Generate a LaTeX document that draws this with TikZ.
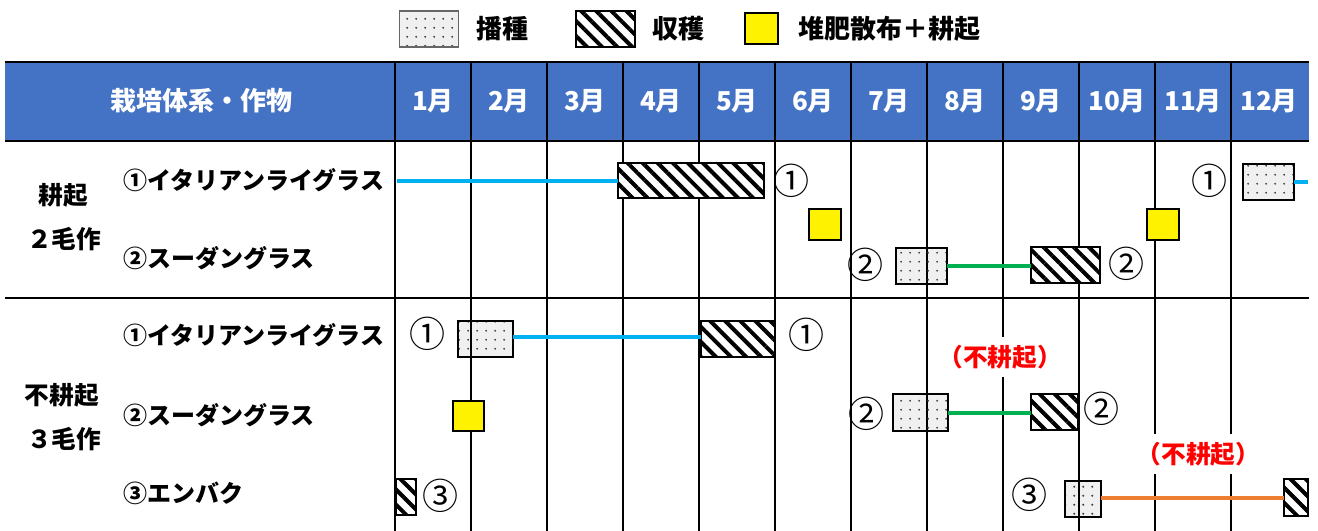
\documentclass[tikz,border=0pt]{standalone}
\usepackage{fontspec}
\setmainfont{Noto Sans CJK JP}
\usetikzlibrary{patterns.meta,fit}
\definecolor{hdr}{HTML}{4472C4}
\definecolor{lblue}{HTML}{00B0F0}
\definecolor{lgreen}{HTML}{00B050}
\definecolor{lorange}{HTML}{ED7D31}
\newcommand\myfs[1]{\fontsize{#1}{#1}\selectfont}
\begin{document}
\begin{tikzpicture}[x=0.75pt,y=-0.75pt,
  gridline/.style={line width=0.8pt, black},
  dotbox/.style={draw=black, line width=1.6pt, inner sep=0pt, outer sep=0pt,
    preaction={fill=black, fill opacity=0.06},
    pattern={Dots[distance=6.5pt,radius=0.8pt]}, pattern color=black!75},
  hatbox/.style={draw=black, line width=1.6pt, inner sep=0pt, outer sep=0pt,
    preaction={fill=white},
    pattern={Lines[angle=-45,distance=8pt,line width=3pt]}, pattern color=black},
  yelbox/.style={draw=black, line width=1.4pt, fill=yellow, inner sep=0pt, outer sep=0pt},
  circ/.style={font=\myfs{27pt}, inner sep=0pt},
  rowlbl/.style={font=\myfs{18pt}\bfseries, anchor=west, inner sep=0pt},
  grplbl/.style={font=\myfs{18.5pt}\bfseries, inner sep=0pt},
  hdrtxt/.style={font=\myfs{19.5pt}\bfseries, text=white, inner sep=0pt},
  legtxt/.style={font=\myfs{19.5pt}\bfseries, anchor=west, inner sep=0pt},
  redlbl/.style={font=\myfs{18.5pt}\bfseries, text=red, fill=white, inner xsep=1pt, minimum height=30pt},
  cline/.style={line width=3pt},
]
\useasboundingbox (0,0) rectangle (1318,531);
% header band
\fill[hdr] (5,62) rectangle (1309,141);
\draw[line width=1.1pt] (5,62) -- (1309,62);
\draw[line width=1.1pt] (5,141) -- (1309,141);
\draw[line width=1.1pt] (5,298) -- (1309,298);
% vertical grid lines
\draw[line width=1.1pt] (395,62) -- (395,531);
\foreach \i in {1,...,11} { \draw[gridline] (395+76*\i,62) -- (395+76*\i,531); }
% header texts
\node[hdrtxt] (hcrop) at (201,101) {栽培体系・作物};
\foreach \m [count=\i from 0] in {1,...,12} { \node[hdrtxt] (m\m) at (395+76*\i+38,101) {\m{}月}; }
% legend
\node[dotbox, line width=1.2pt, draw=black!60, fit={(399.3,11)(458.3,47.3)}] (legD) {};
\node[legtxt] (legDt) at (476,29) {播種};
\node[hatbox, line width=1.4pt, fit={(576,11)(635,47.3)}] (legH) {};
\node[legtxt] (legHt) at (652,29) {収穫};
\node[yelbox, fit={(745,13.3)(777.7,44.3)}] (legY) {};
\node[legtxt] (legYt) at (798,29) {堆肥散布＋耕起};
% group labels
\node[grplbl] (g1a) at (63,195) {耕起};
\node[grplbl] (g1b) at (64,239) {２毛作};
\node[grplbl] (g2a) at (62,395) {不耕起};
\node[grplbl] (g2b) at (64,439) {３毛作};
% row labels
\node[rowlbl] (r1) at (123,180) {①イタリアンライグラス};
\node[rowlbl] (r2) at (123,258) {②スーダングラス};
\node[rowlbl] (r3) at (123,335) {①イタリアンライグラス};
\node[rowlbl] (r4) at (123,415) {②スーダングラス};
\node[rowlbl] (r5) at (123,493) {③エンバク};
% group 1 boxes
\coordinate (b1s) at (397,181);
\coordinate (b2e) at (1308,181.7);
\node[hatbox, fit={(618,162.7)(764,198.3)}] (hA) {};
\node[yelbox, fit={(809,209)(840.7,240)}] (yA) {};
\node[dotbox, fit={(895.7,247.7)(946.7,284)}] (dB) {};
\node[hatbox, fit={(1030.7,246.7)(1100,283.3)}] (hB) {};
\node[yelbox, fit={(1146.7,209.3)(1179,240)}] (yB) {};
\node[dotbox, fit={(1242.7,164)(1294.3,200)}] (dA) {};
\draw[cline, lblue] (b1s) -- (b1s -| hA.west);
\draw[cline, lblue] (dA.east |- b2e) -- (b2e);
\draw[cline, lgreen] (dB.east |- 0,266.5) -- (hB.west |- 0,266.5);
\node[circ] (c1) at (791.7,180.7) {①};
\node[circ] (c2) at (865.7,265) {②};
\node[circ] (c3) at (1126,264) {②};
\node[circ] (c4) at (1209,180.7) {①};
% group 2 boxes
\node[dotbox, fit={(458,321)(512.7,356.7)}] (dC) {};
\node[hatbox, fit={(701.3,320.7)(775,356.7)}] (hC) {};
\draw[cline, lblue] (dC.east |- 0,337.3) -- (hC.west |- 0,337.3);
\node[yelbox, fit={(453,401)(484,431)}] (yC) {};
\node[dotbox, fit={(892.7,394.3)(948.3,430.7)}] (dD) {};
\node[hatbox, fit={(1030.7,394.3)(1077.7,430)}] (hD) {};
\draw[cline, lgreen] (dD.east |- 0,413.3) -- (hD.west |- 0,413.3);
\node[hatbox, fit={(395.7,479)(415.7,515)}] (hE) {};
\node[dotbox, fit={(1065,481)(1100.7,516.7)}] (dE) {};
\node[hatbox, fit={(1284,479.3)(1308,516)}] (hF) {};
\draw[cline, lorange] (dE.east |- 0,498.3) -- (hF.west |- 0,498.3);
\node[circ] (c5) at (427,334) {①};
\node[circ] (c6) at (806,335) {①};
\node[circ] (c7) at (866,414) {②};
\node[circ] (c8) at (1101.7,409) {②};
\node[circ] (c9) at (440,496) {③};
\node[circ] (c10) at (1029.3,495) {③};
% red labels
\node[redlbl] (n1) at (1000,357) {（不耕起）};
\node[redlbl] (n2) at (1198.5,454) {（不耕起）};
\end{tikzpicture}
\end{document}
